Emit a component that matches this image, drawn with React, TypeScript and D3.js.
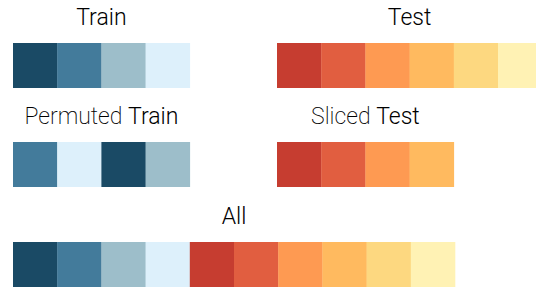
import React, { useEffect, useRef } from 'react';
import * as d3 from 'd3';

const trainColors = ['#1a4a65', '#437b9b', '#9dbeca', '#ddf0fb'];
const testColors = ['#c63d30', '#e15e40', '#fe9a52', '#ffba5f', '#fdd880', '#fff2b4'];
const permutedOrder = [1, 3, 0, 2];
const slicedOrder = [0, 1, 2, 3];

interface Row {
  light: string;
  bold: string;
  colors: string[];
  x0: number;
  y0: number;
}

export default function App() {
  const svgRef = useRef<SVGSVGElement>(null);

  useEffect(() => {
    if (!svgRef.current) return;
    const svg = d3.select(svgRef.current);
    svg.selectAll('*').remove();

    const cell = 44.2;
    const cellH = 45;

    const rows: Row[] = [
      { light: '', bold: 'Train', colors: trainColors, x0: 13, y0: 43 },
      { light: '', bold: 'Test', colors: testColors, x0: 277, y0: 43 },
      { light: 'Permuted ', bold: 'Train', colors: permutedOrder.map(i => trainColors[i]), x0: 13, y0: 142 },
      { light: 'Sliced ', bold: 'Test', colors: slicedOrder.map(i => testColors[i]), x0: 277, y0: 142 },
      { light: '', bold: 'All', colors: [...trainColors, ...testColors], x0: 13, y0: 242 },
    ];

    rows.forEach(row => {
      const x = d3.scaleBand<number>()
        .domain(d3.range(row.colors.length))
        .range([row.x0, row.x0 + cell * row.colors.length])
        .padding(0);

      const g = svg.append('g');

      g.selectAll('rect')
        .data(row.colors)
        .enter()
        .append('rect')
        .attr('x', (_, i) => x(i)!)
        .attr('y', row.y0)
        .attr('width', x.bandwidth() + 0.3)
        .attr('height', cellH)
        .attr('fill', d => d);

      const text = g.append('text')
        .attr('x', row.x0 + (cell * row.colors.length) / 2)
        .attr('y', row.y0 - 18)
        .attr('text-anchor', 'middle')
        .attr('font-family', 'Roboto, sans-serif')
        .attr('font-size', 23)
        .attr('fill', '#000');

      if (row.light) {
        text.append('tspan').attr('font-weight', 200).text(row.light);
      }
      text.append('tspan').attr('font-weight', 300).text(row.bold);
    });
  }, []);

  return (
    <svg
      ref={svgRef}
      width={536}
      height={289}
      style={{ position: 'absolute', left: 0, top: 0, background: '#fff' }}
    ></svg>
  );
}
